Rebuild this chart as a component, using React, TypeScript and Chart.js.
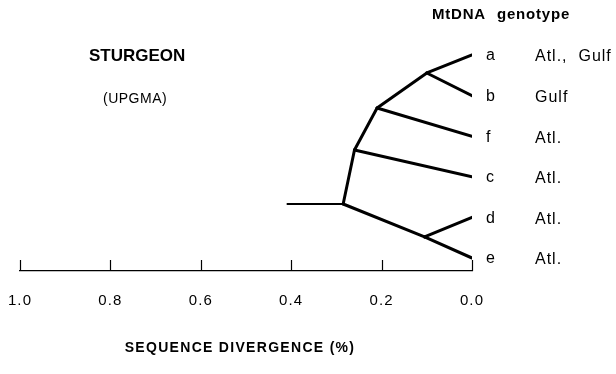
import { useEffect, useRef } from "react";
import { Chart, registerables } from "chart.js";

Chart.register(...registerables);

// ---- data ----
const leafNames = ["a", "b", "f", "c", "d", "e"];
const leafRegions = ["Atl.,  Gulf", "Gulf", "Atl.", "Atl.", "Atl.", "Atl."];
const leafRows = [0, 1, 2, 3, 4, 5];
const leafDivergence = [0, 0, 0, 0, 0, 0];

const nodeNames = ["ab", "abf", "abfc", "de", "root"];
const nodeDivergence = [0.1, 0.21, 0.26, 0.105, 0.285];
const nodeRows = [0.443, 1.305, 2.34, 4.48, 3.67];
const rootStemDivergence = 0.41;

// edges: [parent, child]
const edges: [string, string][] = [
  ["ab", "a"],
  ["ab", "b"],
  ["abf", "ab"],
  ["abf", "f"],
  ["abfc", "abf"],
  ["abfc", "c"],
  ["root", "abfc"],
  ["root", "de"],
  ["de", "d"],
  ["de", "e"],
];

const tickValues = [1.0, 0.8, 0.6, 0.4, 0.2, 0.0];
const axisTitle = "SEQUENCE DIVERGENCE (%)";
const chartTitle = "STURGEON";
const chartSubtitle = "(UPGMA)";
const headerWords = ["MtDNA", "genotype"];

const FONT = "'Liberation Sans', Arial, Helvetica, sans-serif";

function pos(name: string) {
  const li = leafNames.indexOf(name);
  if (li >= 0) return { x: leafDivergence[li], y: leafRows[li] };
  const ni = nodeNames.indexOf(name);
  return { x: nodeDivergence[ni], y: nodeRows[ni] };
}

const spacingPlugin = {
  id: "axisSpacing",
  beforeDraw(chart: any) {
    (chart.ctx as any).letterSpacing = "1.1px";
  },
  beforeDatasetsDraw(chart: any) {
    (chart.ctx as any).letterSpacing = "0px";
  },
};

const textPlugin = {
  id: "treeText",
  afterDraw(chart: any) {
    const ctx = chart.ctx as CanvasRenderingContext2D;
    const xs = chart.scales.x;
    const ys = chart.scales.y;
    const area = chart.chartArea;
    ctx.save();
    (ctx as any).letterSpacing = "0px";
    // upward tick marks
    ctx.strokeStyle = "#000";
    ctx.lineWidth = 1.2;
    tickValues.forEach((v) => {
      const px = Math.round(xs.getPixelForValue(v)) + 0.5;
      ctx.beginPath();
      ctx.moveTo(px, area.bottom);
      ctx.lineTo(px, area.bottom - 11);
      ctx.stroke();
    });
    // leaf labels
    ctx.fillStyle = "#000";
    ctx.textBaseline = "middle";
    ctx.textAlign = "left";
    const x0 = xs.getPixelForValue(0);
    leafNames.forEach((n, i) => {
      const py = ys.getPixelForValue(leafRows[i]);
      ctx.font = `16px ${FONT}`;
      (ctx as any).letterSpacing = "0px";
      ctx.fillText(n, x0 + 14, py + 1);
      (ctx as any).letterSpacing = "1px";
      ctx.fillText(leafRegions[i], x0 + 63, py + 2);
    });
    // header
    ctx.font = `bold 15px ${FONT}`;
    (ctx as any).letterSpacing = "0.8px";
    ctx.fillText(headerWords[0], x0 - 40, 15);
    ctx.fillText(headerWords[1], x0 + 25, 15);
    // axis title
    ctx.font = `bold 14px ${FONT}`;
    (ctx as any).letterSpacing = "1.3px";
    ctx.textAlign = "center";
    ctx.fillText(axisTitle, 240, 348);
    // chart title
    ctx.textAlign = "left";
    (ctx as any).letterSpacing = "0px";
    ctx.font = `bold 17px ${FONT}`;
    ctx.fillText(chartTitle, 89, 56);
    ctx.font = `14px ${FONT}`;
    (ctx as any).letterSpacing = "0.5px";
    ctx.fillText(chartSubtitle, 103, 99);
    ctx.restore();
  },
};

export default function App() {
  const ref = useRef<HTMLCanvasElement | null>(null);
  useEffect(() => {
    if (!ref.current) return;
    const datasets: any[] = edges.map(([p, c]) => ({
      data: [pos(p), pos(c)],
      borderColor: "#000",
      borderWidth: 3,
      pointRadius: 0,
      showLine: true,
      borderCapStyle: "round",
    }));
    const root = pos("root");
    datasets.push({
      data: [{ x: rootStemDivergence, y: root.y }, root],
      borderColor: "#000",
      borderWidth: 1.8,
      pointRadius: 0,
      showLine: true,
    });
    const chart = new Chart(ref.current, {
      type: "scatter",
      data: { datasets },
      options: {
        animation: false,
        responsive: false,
        maintainAspectRatio: false,
        layout: { padding: { left: 20, right: 144, top: 10, bottom: 0 } },
        plugins: { legend: { display: false }, tooltip: { enabled: false } },
        scales: {
          x: {
            type: "linear",
            min: 0,
            max: 1,
            reverse: true,
            afterBuildTicks: (s: any) => {
              s.ticks = tickValues.map((v) => ({ value: v }));
            },
            afterFit: (s: any) => {
              s.paddingLeft = 0;
              s.paddingRight = 0;
              s.height = 103;
            },
            ticks: {
              padding: 21,
              color: "#000",
              font: { family: FONT, size: 15 },
              callback: (v: any) => Number(v).toFixed(1),
              maxRotation: 0,
              autoSkip: false,
            },
            grid: { drawOnChartArea: false, drawTicks: false },
            border: { display: true, color: "#000", width: 1.2 },
            title: { display: false },
          },
          y: {
            type: "linear",
            display: false,
            reverse: true,
            min: -1.108,
            max: 5.32,
          },
        },
      },
      plugins: [spacingPlugin, textPlugin],
    });
    return () => chart.destroy();
  }, []);
  return (
    <div style={{ position: "fixed", left: 0, top: 0, width: 616, height: 374, background: "#fff" }}>
      <canvas ref={ref} width={616} height={374} style={{ width: 616, height: 374 }} />
    </div>
  );
}
